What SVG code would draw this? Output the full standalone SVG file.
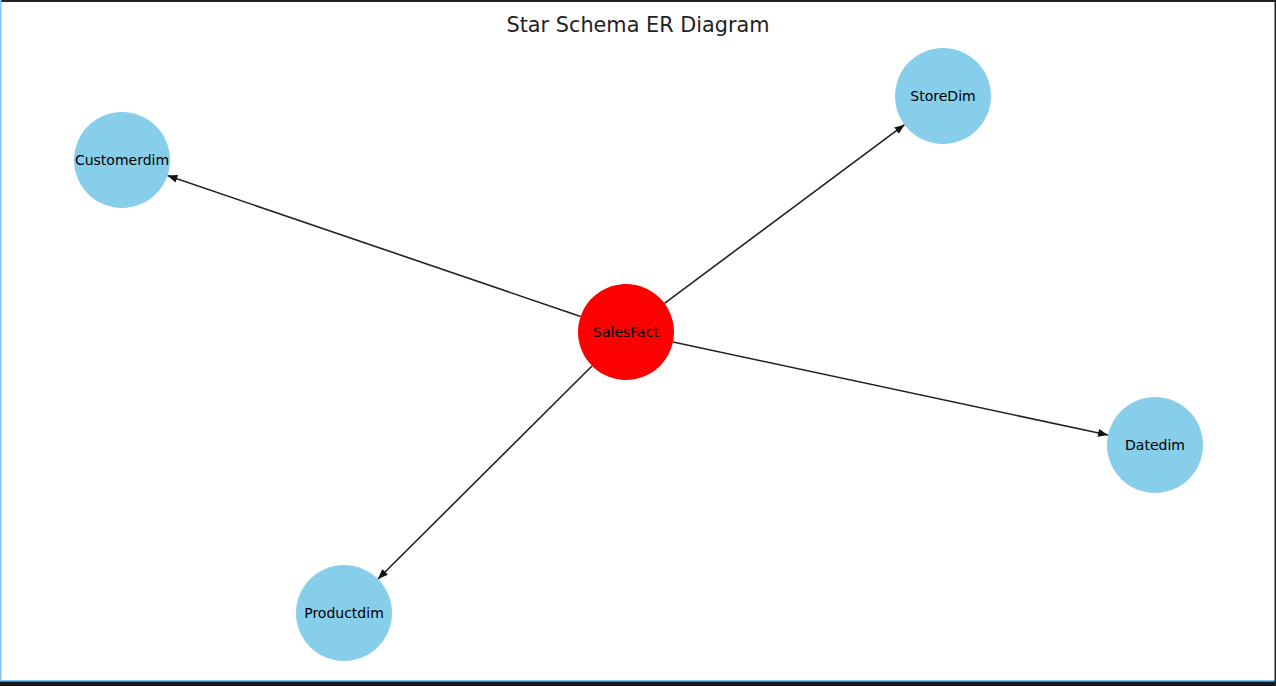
<svg xmlns="http://www.w3.org/2000/svg" width="1276" height="686" viewBox="0 0 1276 686">
<style>
.node circle{stroke:none}
.dim{fill:#87ceeb}
.fact{fill:#ff0000}
.lbl{font-family:"DejaVu Sans",sans-serif;font-size:14px;fill:#000;text-anchor:middle;dominant-baseline:central}
.edge{stroke:#222;stroke-width:1.6;fill:none;marker-end:url(#ah)}
</style>
<defs>
<marker id="ah" markerWidth="10" markerHeight="8" refX="10" refY="4" orient="auto" markerUnits="userSpaceOnUse">
<path d="M0,0 L10,4 L0,8 Z" fill="#111"/>
</marker>
</defs>
<rect x="0" y="0" width="1276" height="686" fill="#ffffff"/>
<rect x="0" y="0" width="1276" height="2" fill="#1e2226"/>
<rect x="0" y="0" width="1.5" height="682" fill="#7fc4f5"/>
<rect x="0" y="680" width="1276" height="1.5" fill="#7fc4f5"/>
<rect x="0" y="681.5" width="1276" height="4.5" fill="#11181e"/>
<rect x="1274.5" y="0" width="1.5" height="686" fill="#1e2226"/>
<text x="638" y="25" font-family="DejaVu Sans, sans-serif" font-size="20.8" fill="#222" text-anchor="middle" dominant-baseline="central">Star Schema ER Diagram</text>
<g id="connectors">
<line class="edge" x1="580.6" y1="316.5" x2="167.4" y2="175.5"/>
<line class="edge" x1="664.5" y1="303.3" x2="904.5" y2="124.7"/>
<line class="edge" x1="673" y1="342" x2="1108" y2="435"/>
<line class="edge" x1="592" y1="366" x2="378" y2="579"/>
</g>
<g id="SalesFact" class="node"><circle class="fact" cx="626" cy="332" r="48"/><text class="lbl" x="626" y="332">SalesFact</text></g>
<g id="Customerdim" class="node"><circle class="dim" cx="122" cy="160" r="48"/><text class="lbl" x="122" y="160">Customerdim</text></g>
<g id="StoreDim" class="node"><circle class="dim" cx="943" cy="96" r="48"/><text class="lbl" x="943" y="96">StoreDim</text></g>
<g id="Datedim" class="node"><circle class="dim" cx="1155" cy="445" r="48"/><text class="lbl" x="1155" y="445">Datedim</text></g>
<g id="Productdim" class="node"><circle class="dim" cx="344" cy="613" r="48"/><text class="lbl" x="344" y="613">Productdim</text></g>
</svg>
